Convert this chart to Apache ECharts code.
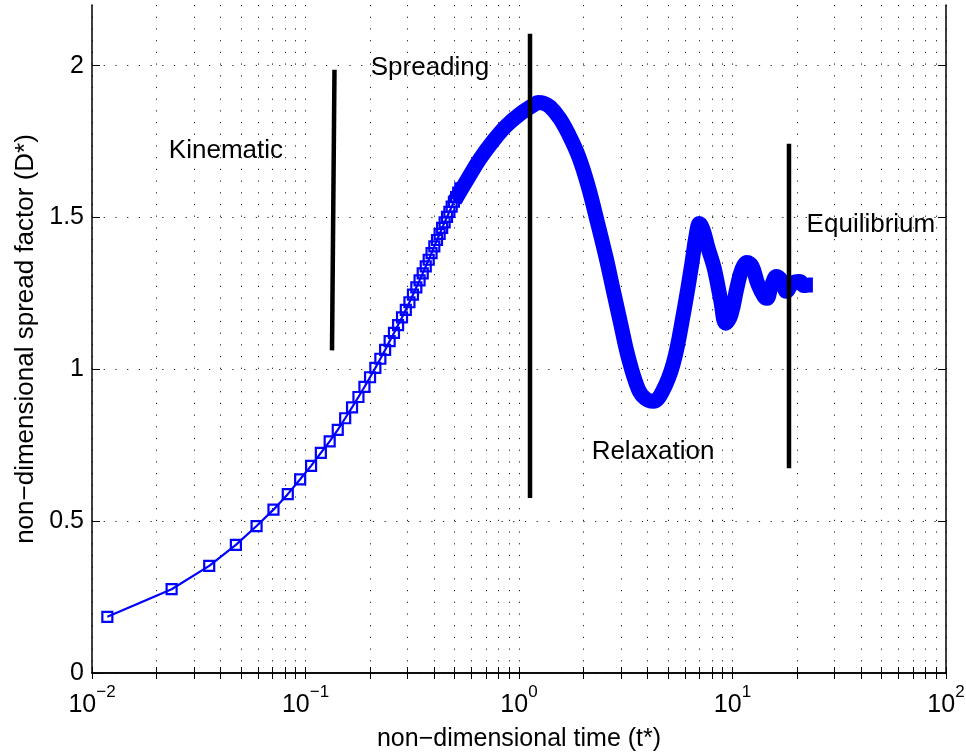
<!DOCTYPE html>
<html><head><meta charset="utf-8">
<script src="https://cdn.jsdelivr.net/npm/echarts@6/dist/echarts.min.js"></script>
<style>html,body{margin:0;padding:0;background:#fff}#c{width:966px;height:754px}</style>
</head><body><div id="c"></div>
<script>
// sampled points shown with square markers
const markerT = [0.0118,0.0236,0.0354,0.0472,0.059,0.0708,0.0826,0.0944,0.1062,0.118,
  0.1298,0.1416,0.1534,0.1652,0.177,0.1888,0.2006,0.2124,0.2242,0.236,
  0.2478,0.2596,0.2714,0.2832,0.295,0.3068,0.3186,0.3304,0.3422,0.354,
  0.3658,0.3776,0.3894,0.4012,0.413,0.4248,0.4366,0.4484,0.4602,0.472,
  0.4838,0.4956,0.5074,0.5192,0.531];
const markerD = [0.185,0.276,0.353,0.422,0.484,0.538,0.589,0.638,0.682,0.725,
  0.763,0.801,0.839,0.875,0.909,0.942,0.974,1.005,1.035,1.064,
  1.093,1.12,1.146,1.171,1.196,1.221,1.246,1.27,1.293,1.316,
  1.339,1.361,1.383,1.405,1.426,1.446,1.466,1.484,1.502,1.519,
  1.536,1.552,1.567,1.582,1.596];
// dense part where markers merge into a thick band
const bandT = [0.50,0.569,0.656,0.758,0.875,1.011,1.167,1.23,1.30,1.397,1.556,1.734,1.91,2.105,2.31,2.556,2.765,2.995,3.25,3.62,3.89,4.245,4.68,5.28,5.89,6.45,6.75,7.0,7.28,7.68,8.19,8.81,9.3,9.84,10.5,11.08,11.7,12.34,13.16,14.05,14.5,15.14,16.1,17.06,17.9,19.2,20.7,21.6,22.8,23.8];
const bandD = [1.556,1.622,1.693,1.753,1.803,1.841,1.870,1.879,1.877,1.865,1.825,1.765,1.698,1.605,1.495,1.369,1.26,1.15,1.04,0.935,0.905,0.895,0.925,1.019,1.183,1.348,1.44,1.48,1.46,1.40,1.336,1.227,1.152,1.18,1.27,1.33,1.352,1.34,1.28,1.24,1.234,1.27,1.306,1.29,1.257,1.285,1.289,1.276,1.278,1.278];
// regime divider lines (start/end)
const dividerT = [[0.1367,0.1331],[1.126,1.126],[18.39,18.39]];
const dividerD = [[1.987,1.0625],[2.105,0.576],[1.743,0.674]];
// regime annotations
const labelText = ['Kinematic','Spreading','Relaxation','Equilibrium'];
const labelT = [0.0424,0.383,4.245,44.5];
const labelD = [1.720,1.993,0.727,1.477];
// ticks
const xTickValues = [0.01,0.02,0.03,0.04,0.05,0.06,0.07,0.08,0.09,
  0.1,0.2,0.3,0.4,0.5,0.6,0.7,0.8,0.9,
  1,2,3,4,5,6,7,8,9,
  10,20,30,40,50,60,70,80,90,100];
const xLabelValues = [0.01,0.1,1,10,100];
const yTickValues = [0,0.5,1,1.5,2];

const FONT = "'Liberation Sans', Arial, Helvetica, sans-serif";
const blue = '#0000ff';
const dotted = {color:'#222', width:1, type:[1.2,10.5]};

const chart = echarts.init(document.getElementById('c'), null, {renderer:'canvas'});

const dividerSeries = dividerT.map((ts,k)=>({
  type:'line', xAxisIndex:0, yAxisIndex:0, z:5,
  data: ts.map((t,j)=>[t, dividerD[k][j]]),
  symbol:'none', silent:true,
  lineStyle:{color:'#000', width:4.5, cap:'butt'}
}));

const option = {
  backgroundColor:'#fff',
  animation:false,
  grid:{left:92, right:20, top:5, bottom:81, containLabel:false, outerBoundsMode:'none'},
  xAxis:[{
    type:'log', logBase:10, min:0.01, max:100, position:'bottom',
    name:'non\u2212dimensional time (t*)', nameLocation:'middle', nameGap:54,
    nameTextStyle:{fontFamily:FONT, fontSize:25, color:'#000'},
    axisLine:{lineStyle:{color:'#000', width:1.5}},
    axisTick:{inside:true, length:6, customValues:xTickValues, lineStyle:{color:'#000'}},
    minorTick:{show:false},
    splitLine:{show:true, lineStyle:dotted},
    axisLabel:{
      customValues:xLabelValues, margin:11, color:'#000',
      formatter:function(v){
        const e = Math.round(Math.log10(v));
        return '{b|10}{s|' + (e<0?'\u2212':'') + Math.abs(e) + '}';
      },
      rich:{
        b:{fontFamily:FONT, fontSize:25, color:'#000', lineHeight:34, verticalAlign:'bottom'},
        s:{fontFamily:FONT, fontSize:17, color:'#000', lineHeight:34, verticalAlign:'top'}
      }
    }
  },{
    type:'log', logBase:10, min:0.01, max:100, position:'top',
    axisLine:{lineStyle:{color:'#000', width:1.5}},
    axisTick:{inside:true, length:6, customValues:xTickValues, lineStyle:{color:'#000'}},
    axisLabel:{show:false}, splitLine:{show:false}
  }],
  yAxis:[{
    type:'value', min:0, max:2.2, interval:0.5, position:'left',
    name:'non\u2212dimensional spread factor (D*)', nameLocation:'middle', nameGap:47,
    nameTextStyle:{fontFamily:FONT, fontSize:26, color:'#000'},
    axisLine:{show:true, lineStyle:{color:'#000', width:1.5}},
    axisTick:{show:true, inside:true, length:8, customValues:yTickValues, lineStyle:{color:'#000'}},
    splitLine:{show:true, lineStyle:dotted},
    axisLabel:{customValues:yTickValues, margin:8, fontFamily:FONT, fontSize:25, color:'#000',
      formatter:function(v){ return String(v); }}
  },{
    type:'value', min:0, max:2.2, interval:0.5, position:'right',
    axisLine:{show:true, lineStyle:{color:'#000', width:1.5}},
    axisTick:{show:true, inside:true, length:8, customValues:yTickValues, lineStyle:{color:'#000'}},
    axisLabel:{show:false}, splitLine:{show:false}
  }],
  series:[
    {
      type:'line', xAxisIndex:0, yAxisIndex:0, z:3,
      data: bandT.map((t,i)=>[t, bandD[i]]),
      symbol:'none', smooth:0.4, silent:true,
      lineStyle:{color:blue, width:15, join:'round', cap:'butt'}
    },
    {
      type:'line', xAxisIndex:0, yAxisIndex:0, z:4,
      data: markerT.map((t,i)=>[t, markerD[i]]),
      symbol:'rect', symbolSize:10, showAllSymbol:true, silent:true,
      itemStyle:{color:'rgba(0,0,0,0)', borderColor:blue, borderWidth:2.2},
      lineStyle:{color:blue, width:2.2}
    },
    ...dividerSeries,
    {
      type:'scatter', xAxisIndex:0, yAxisIndex:0, z:6, silent:true,
      symbolSize:1, itemStyle:{color:'#fff', opacity:1},
      data: labelT.map((t,i)=>({value:[t, labelD[i]], name:labelText[i]})),
      label:{show:true, position:'inside', formatter:'{b}', fontFamily:FONT, fontSize:26,
        color:'#000', opacity:1, textBorderWidth:0, textShadowBlur:0}
    }
  ]
};
chart.setOption(option);
</script>
</body></html>
